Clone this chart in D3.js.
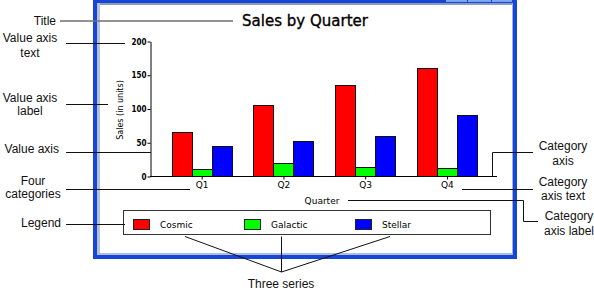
<!DOCTYPE html>
<html><head><meta charset="utf-8">
<script src="https://cdn.jsdelivr.net/npm/d3@7/dist/d3.min.js"></script>
<style>body{margin:0;background:#fff}svg{display:block}</style>
</head><body>
<script>
const categories = ["Q1", "Q2", "Q3", "Q4"];
const seriesNames = ["Cosmic", "Galactic", "Stellar"];
const cosmic = [65, 105, 135, 160];
const galactic = [10, 20, 14, 12];
const stellar = [45, 52, 60, 90];
const yTicks = [0, 50, 100, 150, 200];
const seriesColors = ["#ff0000", "#00ff00", "#0000ff"];
const titleText = "Sales by Quarter";
const yLabel = "Sales (in units)";
const xLabel = "Quarter";

const W = 594, H = 293;
const svg = d3.select("body").append("svg").attr("width", W).attr("height", H);
svg.append("rect").attr("width", W).attr("height", H).attr("fill", "#fff");

// window frame
const win = svg.append("g");
win.append("rect").attr("x", 93).attr("y", 0).attr("width", 424).attr("height", 259).attr("fill", "#1646d8");
win.append("rect").attr("x", 97).attr("y", 3).attr("width", 416).attr("height", 252).attr("fill", "#fff");
win.append("rect").attr("x", 97).attr("y", 3).attr("width", 416).attr("height", 2).attr("fill", "#8e9bb8");
win.append("rect").attr("x", 97).attr("y", 3).attr("width", 3).attr("height", 252).attr("fill", "#b4c0dc");
win.append("rect").attr("x", 97).attr("y", 253).attr("width", 416).attr("height", 2).attr("fill", "#aebde6");
win.append("rect").attr("x", 512).attr("y", 3).attr("width", 1).attr("height", 252).attr("fill", "#9fb2e6");
[[446, 467], [468, 491], [492, 512]].forEach(([a, b]) => {
  win.append("rect").attr("x", a).attr("y", 0).attr("width", b - a).attr("height", 2).attr("fill", "#7aa6f4");
});

// scales
const y = d3.scaleLinear().domain([0, 200]).range([176, 41]);
const x0 = d3.scaleBand().domain(categories).range([160.8, 487.8]);
const x1 = d3.scaleBand().domain(seriesNames).range([0, 60]);
const values = [cosmic, galactic, stellar];

const chartFont = "'DejaVu Sans', sans-serif";

// title
svg.append("text").attr("x", 305).attr("y", 26).attr("text-anchor", "middle")
  .attr("font-family", chartFont).attr("font-size", 15).attr("fill", "#000")
  .attr("stroke", "#000").attr("stroke-width", 0.35).text(titleText);

// bars
seriesNames.forEach((s, si) => {
  svg.append("g").selectAll("rect").data(categories).join("rect")
    .attr("x", c => Math.round(x0(c) + (x0.bandwidth() - 60) / 2 + x1(s)) + 0.5)
    .attr("y", (c, i) => Math.round(y(values[si][i])) + 0.5)
    .attr("width", x1.bandwidth())
    .attr("height", (c, i) => y(0) - Math.round(y(values[si][i])))
    .attr("fill", seriesColors[si]).attr("stroke", "#111").attr("stroke-width", 1);
});

// y axis
const yAxis = svg.append("g").attr("transform", "translate(150.5,0.5)")
  .call(d3.axisLeft(y).tickValues(yTicks).tickSize(3).tickSizeOuter(0).tickPadding(1));
yAxis.selectAll("text").attr("font-family", "'DejaVu Sans Condensed', 'DejaVu Sans', sans-serif")
  .attr("font-size", 8).attr("font-weight", "bold").attr("fill", "#000");
yAxis.select(".domain").attr("stroke", "#000");

// x axis
const xAxis = svg.append("g").attr("transform", "translate(0.5,176.5)")
  .call(d3.axisBottom(x0).tickSize(3).tickSizeOuter(0).tickPadding(2));
xAxis.select(".domain").remove();
xAxis.selectAll("text").attr("font-family", chartFont).attr("font-size", 9).attr("fill", "#000");
svg.append("line").attr("x1", 150).attr("x2", 497).attr("y1", 176.5).attr("y2", 176.5).attr("stroke", "#000");

// axis labels
svg.append("text").attr("transform", "translate(123,110) rotate(-90)").attr("text-anchor", "middle")
  .attr("font-family", chartFont).attr("font-size", 8).attr("fill", "#000").text(yLabel);
svg.append("text").attr("x", 322).attr("y", 203.5).attr("text-anchor", "middle")
  .attr("font-family", chartFont).attr("font-size", 9).attr("fill", "#000").text(xLabel);

// legend
svg.append("rect").attr("x", 123.5).attr("y", 210.5).attr("width", 367).attr("height", 24)
  .attr("fill", "#fff").attr("stroke", "#333");
const lg = svg.append("g").selectAll("g").data(seriesNames).join("g")
  .attr("transform", (d, i) => `translate(${133 + i * 111},219)`);
lg.append("rect").attr("x", 0.5).attr("y", 0.5).attr("width", 16).attr("height", 10)
  .attr("fill", (d, i) => seriesColors[i]).attr("stroke", "#222");
lg.append("text").attr("x", 27).attr("y", 8.5).attr("font-family", chartFont).attr("font-size", 9)
  .attr("fill", "#000").text(d => d);

// annotations
const annFont = "'Liberation Sans', Arial, sans-serif";
const ann = svg.append("g").attr("font-family", annFont).attr("font-size", 12).attr("fill", "#111");
function lbl(x, yy, t, anchor) {
  ann.append("text").attr("x", x).attr("y", yy).attr("text-anchor", anchor || "middle").text(t);
}
lbl(56, 25, "Title", "end");
lbl(30, 42, "Value axis"); lbl(30, 57, "text");
lbl(30, 102, "Value axis"); lbl(30, 115, "label");
lbl(59, 153, "Value axis", "end");
lbl(33, 185, "Four"); lbl(33, 198, "categories");
lbl(61, 227, "Legend", "end");
lbl(563, 150, "Category"); lbl(563, 165, "axis");
lbl(563, 186, "Category"); lbl(563, 200, "axis text");
lbl(569, 220, "Category"); lbl(569, 235, "axis label");
lbl(281, 288, "Three series");

const lines = svg.append("g").attr("fill", "none").attr("stroke", "#111").attr("stroke-width", 1);
svg.append("line").attr("x1", 60).attr("x2", 233).attr("y1", 21).attr("y2", 21).attr("stroke", "#6e6e6e").attr("stroke-width", 1.6);
function pl(pts) { lines.append("polyline").attr("points", pts.map(p => p.join(",")).join(" ")); }
pl([[66, 43.5], [125, 43.5]]);
pl([[66, 104.5], [108, 104.5]]);
pl([[66, 152.5], [151, 152.5]]);
pl([[66, 189.5], [190, 189.5]]);
pl([[66, 224.5], [125, 224.5]]);
pl([[533, 152.5], [492.5, 152.5], [492.5, 176]]);
pl([[462, 189.5], [533, 189.5]]);
pl([[348, 200.5], [523.5, 200.5], [523.5, 221.5], [538, 221.5]]);
pl([[185, 236.5], [281.5, 272], [390, 236.5]]);
pl([[281.5, 236.5], [281.5, 272]]);
</script>
</body></html>
